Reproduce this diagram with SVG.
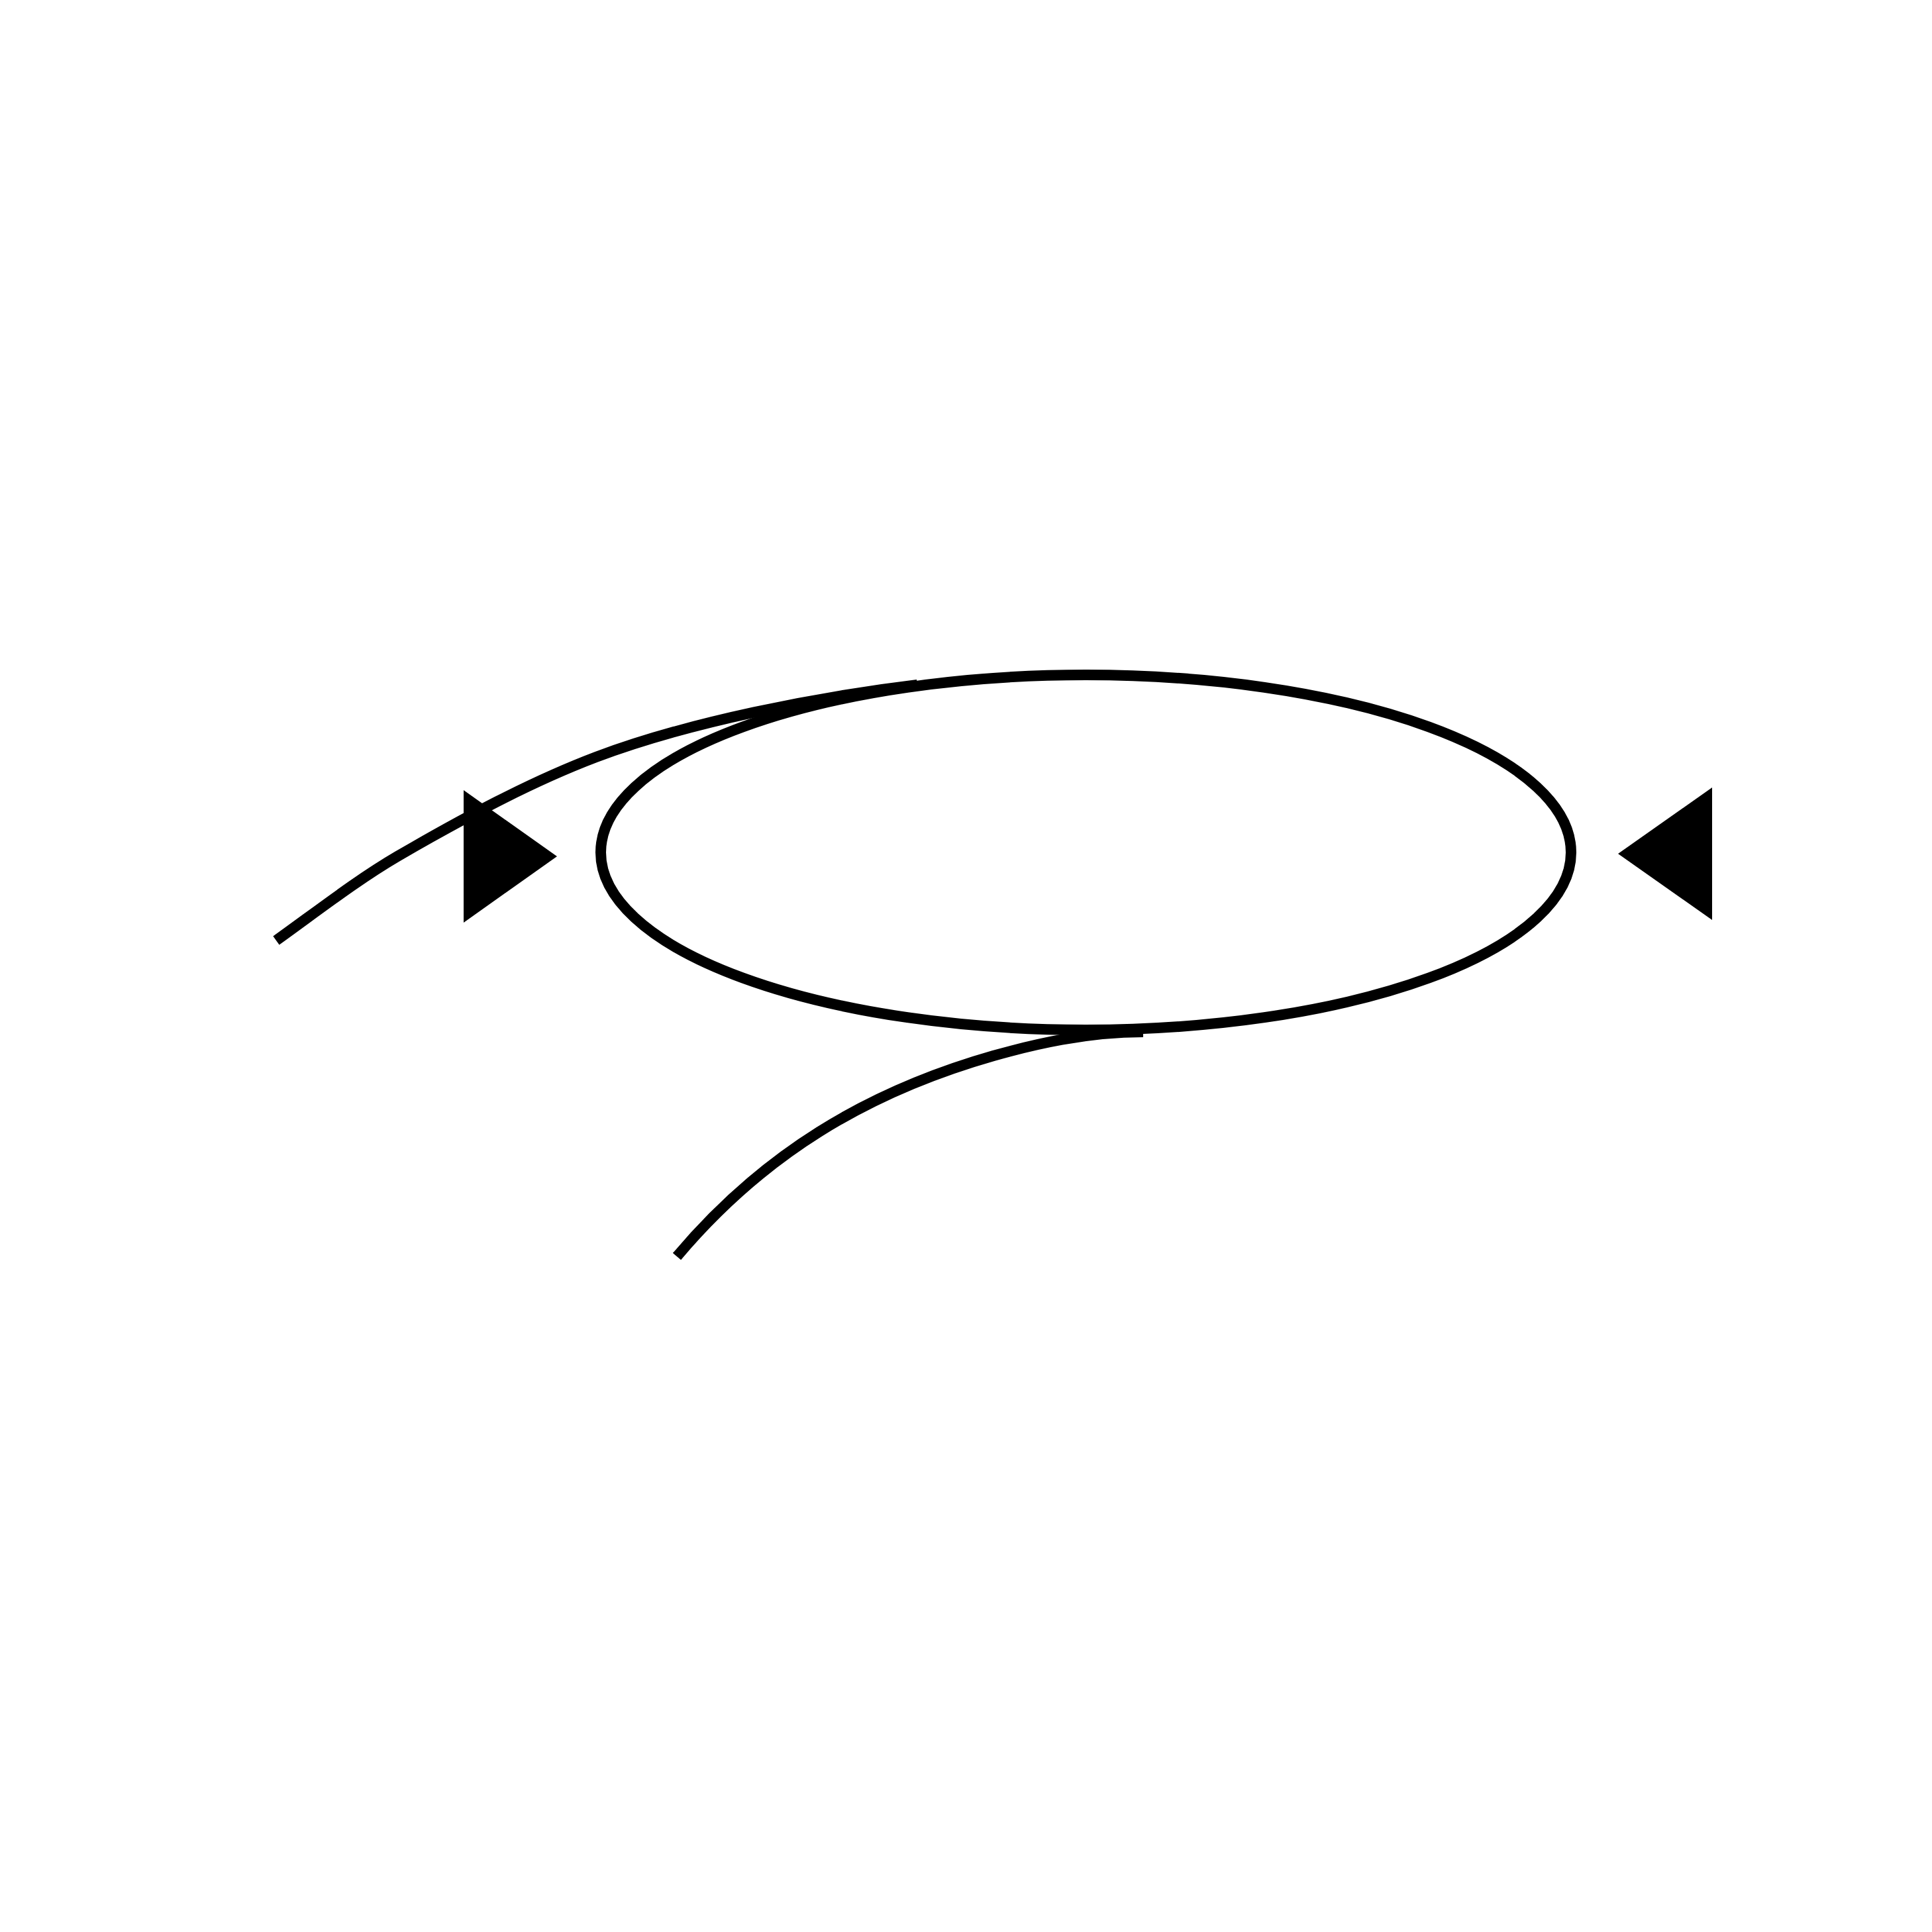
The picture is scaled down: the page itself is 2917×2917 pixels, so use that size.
<svg xmlns="http://www.w3.org/2000/svg" width="2917" height="2917" viewBox="0 0 2917 2917">
<style>
.node{fill:none;stroke:#000;stroke-width:16}
.edge{fill:none;stroke:#000;stroke-width:16;stroke-linecap:butt;stroke-linejoin:round}
.head{fill:#000;stroke:none}
</style>
<rect x="0" y="0" width="2917" height="2917" fill="#fff"/>
<g id="node1">
<ellipse class="node" cx="1639.5" cy="1287" rx="732.5" ry="268"/>
</g>
<g id="connectors">
<path class="edge" d="M417,1420 C477,1377 540,1328 600,1293 C700,1235 800,1181 900,1143 C1040,1090 1235,1052 1385,1034"/>
<path class="edge" d="M1022,1897 C1151,1744 1307,1649 1500,1594 C1560,1577 1640,1558 1726,1558"/>
<polygon class="head" points="700,1193 700,1393 841,1293"/>
<polygon class="head" points="2585,1189 2585,1389 2443,1289"/>
</g>
</svg>
